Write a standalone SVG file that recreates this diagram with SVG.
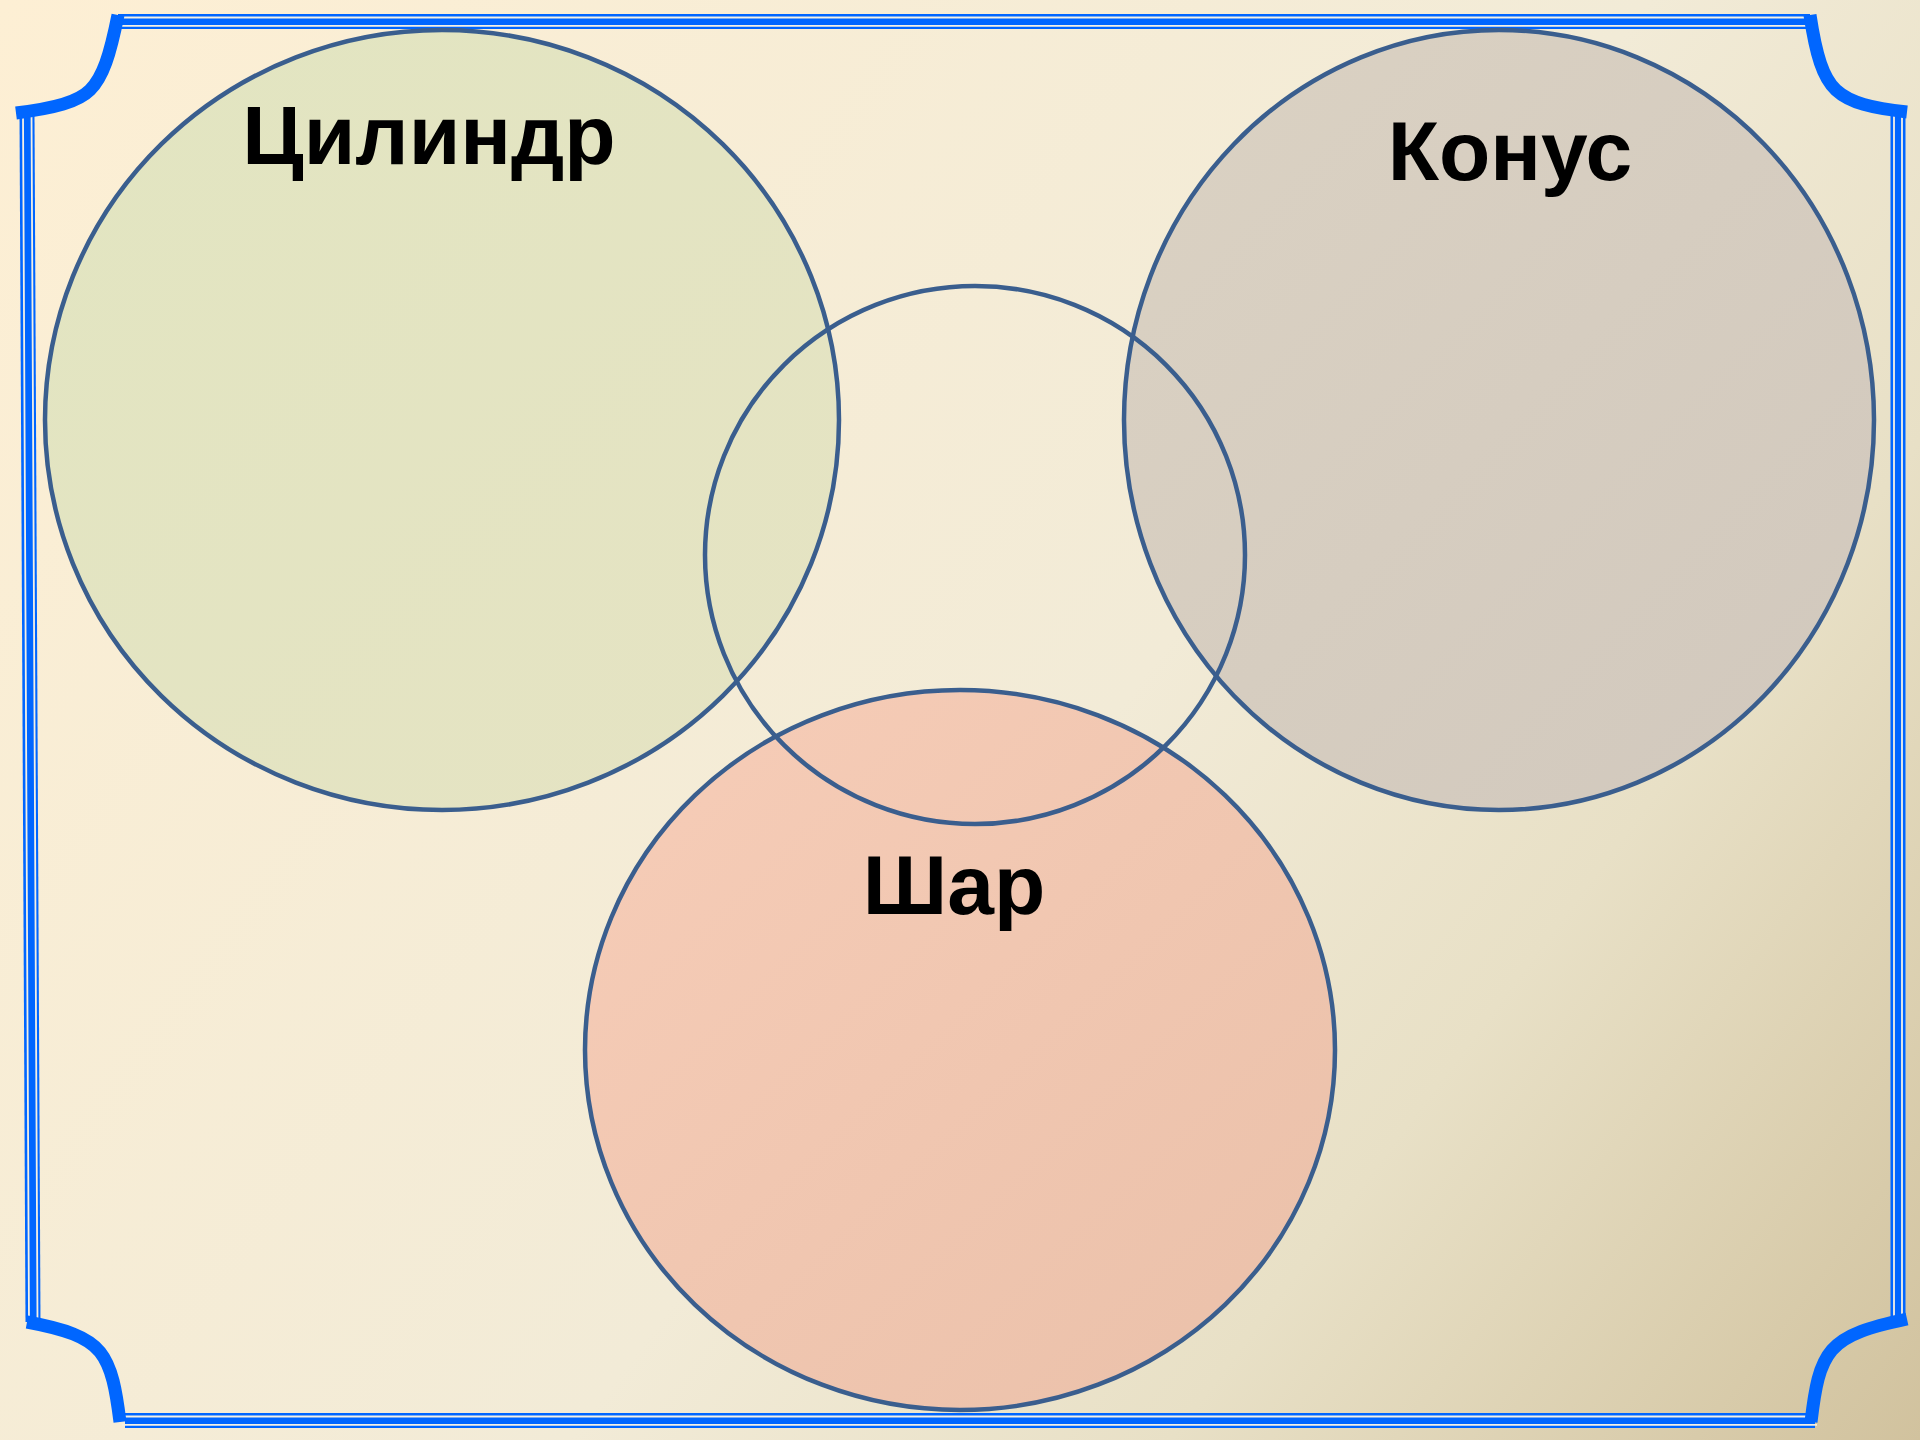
<svg xmlns="http://www.w3.org/2000/svg" width="1920" height="1440" viewBox="0 0 1920 1440">
<defs>
<linearGradient id="bg" x1="0" y1="0" x2="1920" y2="1440" gradientUnits="userSpaceOnUse">
<stop offset="0" stop-color="#FDEFD4"/>
<stop offset="0.55" stop-color="#F2EBD7"/>
<stop offset="0.75" stop-color="#E8E0C6"/>
<stop offset="1" stop-color="#D1C29E"/>
</linearGradient>
<linearGradient id="gCyl" x1="0" y1="0" x2="1" y2="1">
<stop offset="0" stop-color="#E2E5C1"/>
<stop offset="1" stop-color="#E5E3C3"/>
</linearGradient>
<linearGradient id="gCone" x1="0" y1="0" x2="1" y2="1">
<stop offset="0" stop-color="#DBD2C3"/>
<stop offset="1" stop-color="#D1C8BD"/>
</linearGradient>
<linearGradient id="gBall" x1="0" y1="0" x2="1" y2="1">
<stop offset="0" stop-color="#F7CDB8"/>
<stop offset="1" stop-color="#EAC0A9"/>
</linearGradient>
<style>
.ring{stroke:#3A5E8E;stroke-width:4.5}
.lbl{font-family:"Liberation Sans",Arial,sans-serif;font-weight:bold;font-size:84px;fill:#000;text-anchor:middle}
.thick{fill:none;stroke:#0066FF;stroke-width:13}
.band{fill:none;stroke:#0066FF;stroke-width:15}
.gap{fill:none;stroke:#F4F0E4;stroke-width:1.8}
</style>
</defs>
<rect width="1920" height="1440" fill="url(#bg)"/>
<g id="frame">
<path class="band" d="M118,21.5 H1810"/>
<path class="gap" d="M114,17.5 H1812 M114,25.8 H1812"/>
<path class="band" d="M125,1420.5 H1815"/>
<path class="gap" d="M122,1416.5 H1817 M122,1424.8 H1817"/>
<path class="band" d="M27,115 L33,1322"/>
<path class="gap" d="M23,113 L29,1322 M31.5,113 L37.5,1322"/>
<path class="band" d="M1898,115 L1898,1320"/>
<path class="gap" d="M1894,112 L1894,1320 M1902,112 L1902,1320"/>
<path class="thick" d="M16,113 C55,108 78,102 90,90 C103,77 110,55 118,15"/>
<path class="thick" d="M1810,15 C1816,55 1823,78 1836,90 C1850,103 1872,108 1907,112"/>
<path class="thick" d="M27,1322 C65,1329 88,1337 100,1352 C112,1367 116,1390 120,1422"/>
<path class="thick" d="M1811,1422 C1815,1388 1819,1365 1832,1350 C1846,1334 1870,1327 1907,1319"/>
</g>
<g id="cylinder">
<ellipse class="ring" cx="442" cy="420" rx="397" ry="390" fill="url(#gCyl)"/>
</g>
<g id="cone">
<ellipse class="ring" cx="1499" cy="420" rx="375" ry="390" fill="url(#gCone)"/>
</g>
<g id="ball">
<ellipse class="ring" cx="960" cy="1050" rx="375" ry="360" fill="url(#gBall)"/>
</g>
<g id="middle">
<ellipse class="ring" cx="975" cy="555" rx="270" ry="269" fill="none"/>
</g>
<g id="labels">
<text class="lbl" x="429" y="164">Цилиндр</text>
<text class="lbl" x="1510" y="180">Конус</text>
<text class="lbl" x="954" y="914">Шар</text>
</g>
</svg>
